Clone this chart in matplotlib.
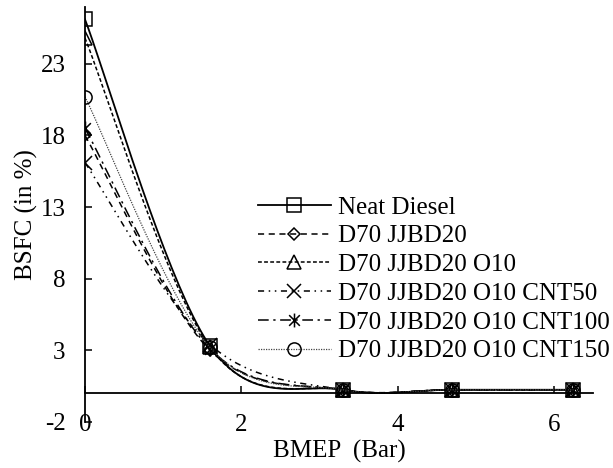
import numpy as np
import matplotlib
matplotlib.use('Agg')
import matplotlib.pyplot as plt
from matplotlib.path import Path

# === data ===
bmep = [0.0, 1.6, 3.3, 4.7, 6.25]

neat_diesel = [26.1, 3.3, 0.25, 0.25, 0.25]
jjbd20 = [18.0, 3.0, 0.25, 0.25, 0.25]
jjbd20_o10 = [24.8, 3.2, 0.25, 0.25, 0.25]
cnt50 = [16.1, 3.4, 0.25, 0.25, 0.25]
cnt100 = [18.5, 3.1, 0.25, 0.25, 0.25]
cnt150 = [20.7, 3.2, 0.25, 0.25, 0.25]

labels = ['Neat Diesel', 'D70 JJBD20', 'D70 JJBD20 O10',
          'D70 JJBD20 O10 CNT50', 'D70 JJBD20 O10 CNT100',
          'D70 JJBD20 O10 CNT150']
yticks = [-2, 3, 8, 13, 18, 23]
xticks = [0, 2, 4, 6]


def smooth(x, y, n=40):
    # spreadsheet style smoothed line (Catmull-Rom through the points)
    p = np.column_stack([x, y]).astype(float)
    pts = np.vstack([p[0], p, p[-1]])
    out = []
    t = np.linspace(0, 1, n, endpoint=False)[:, None]
    for i in range(1, len(pts) - 2):
        p0, p1, p2, p3 = pts[i - 1], pts[i], pts[i + 1], pts[i + 2]
        c1 = p1 + (p2 - p0) / 6.0
        c2 = p2 - (p3 - p1) / 6.0
        seg = ((1 - t) ** 3) * p1 + 3 * ((1 - t) ** 2) * t * c1 \
            + 3 * (1 - t) * t ** 2 * c2 + t ** 3 * p2
        out.append(seg)
    out.append(p[-1][None, :])
    out = np.vstack(out)
    marks = list(range(0, n * (len(x) - 1) + 1, n))
    return out[:, 0], out[:, 1], marks


# asterisk marker: an X with a vertical bar
asterisk = Path([(-1, -1), (1, 1), (-1, 1), (1, -1), (0, -1.3), (0, 1.3)],
                [Path.MOVETO, Path.LINETO, Path.MOVETO, Path.LINETO,
                 Path.MOVETO, Path.LINETO])

series = [neat_diesel, jjbd20, jjbd20_o10, cnt50, cnt100, cnt150]
styles = [
    dict(ls='-', marker='s', ms=10, lw=1.3),
    dict(ls=(0, (4, 3)), marker='D', ms=6.5, lw=1.1),
    dict(ls=(0, (2.5, 1.5)), marker='^', ms=10, lw=1.1),
    dict(ls=(0, (4, 3, 1, 3, 1, 3)), marker='x', ms=10, lw=1.1),
    dict(ls=(0, (7, 3, 1.5, 3)), marker=asterisk, ms=10, lw=1.1),
    dict(ls=(0, (1, 1)), marker='o', ms=9.5, lw=0.9, color='#444444'),
]

plt.rcParams['font.family'] = ['Liberation Serif', 'DejaVu Serif']
plt.rcParams['font.size'] = 18
plt.rcParams['axes.unicode_minus'] = False

fig = plt.figure(figsize=(6.13, 4.68), dpi=100)
ax = fig.add_axes([85 / 613, 46 / 468, 508 / 613, 415.5 / 468])

for vals, lab, st in zip(series, labels, styles):
    st = dict(st)
    col = st.pop('color', 'black')
    xs, ys, marks = smooth(bmep, vals)
    ax.plot(xs, ys, color=col, markevery=marks, mfc='none', mec='black',
            mew=1.1, label=lab, **st)

ax.set_xlim(0, 6.5)
ax.set_ylim(-2, 27)
ax.set_xticks(xticks)
ax.set_yticks(yticks)

ax.spines['top'].set_visible(False)
ax.spines['right'].set_visible(False)
ax.spines['bottom'].set_position(('data', 0))
for s in ('left', 'bottom'):
    ax.spines[s].set_linewidth(1.3)

ax.tick_params(axis='both', direction='in', length=5, width=1.1)
ax.tick_params(axis='x', pad=15)
ax.tick_params(axis='y', pad=14)

ax.set_xlabel('BMEP  (Bar)', labelpad=3)
ax.set_ylabel('BSFC (in %)', labelpad=2)

ax.legend(loc='upper left', bbox_to_anchor=(258 / 613, 1 - 196 / 468),
          bbox_transform=fig.transFigure, frameon=False, borderpad=0,
          borderaxespad=0, labelspacing=0.25, handlelength=2.9,
          handletextpad=0.3, fontsize=18)

fig.savefig('out.png', dpi=100)
